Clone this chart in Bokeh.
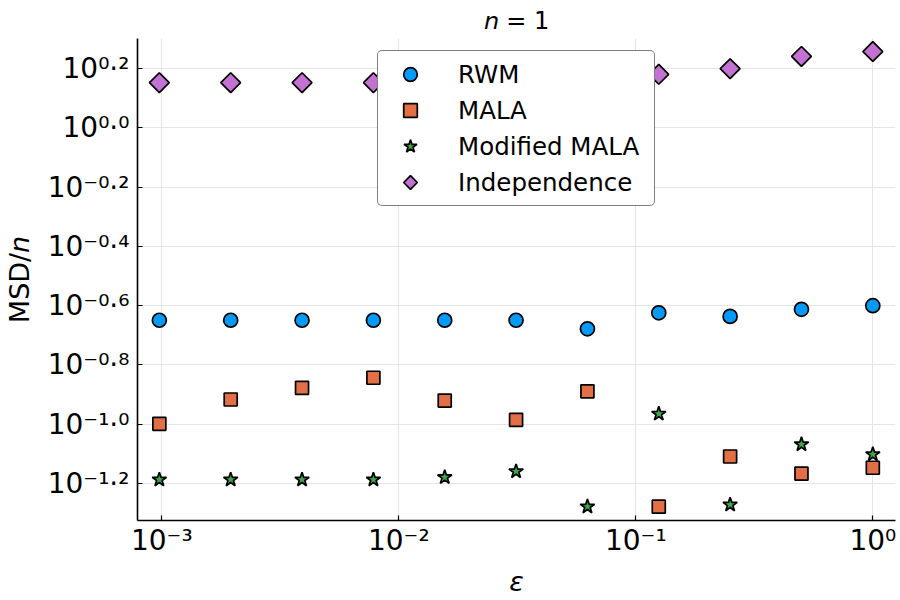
import math
from bokeh.plotting import figure
from bokeh.models import Range1d, FixedTicker, CustomJSTickFormatter, Legend, ColumnDataSource
from bokeh.embed import file_html
from bokeh.resources import INLINE

# ---- data ----
eps = [0.0009765625, 0.001953125, 0.00390625, 0.0078125, 0.015625, 0.03125,
       0.0625, 0.125, 0.25, 0.5, 1.0]
rwm = [0.2244, 0.2244, 0.2244, 0.2244, 0.2244, 0.2244, 0.2099, 0.2377, 0.2312, 0.2443, 0.2512]
mala = [0.1003, 0.1212, 0.1327, 0.1435, 0.1202, 0.1035, 0.1291, 0.0527, 0.0778, 0.0681, 0.0713]
mod_mala = [0.0650, 0.0650, 0.0650, 0.0650, 0.0662, 0.0693, 0.0527, 0.1084, 0.0535, 0.0855, 0.0791]
indep = [1.4223, 1.4223, 1.4223, 1.4223, 1.4223, 1.4289, 1.4454, 1.517, 1.585, 1.744, 1.811]

x_tick_vals = [0.001, 0.01, 0.1, 1.0]
x_tick_labels = ["10\u207b\u00b3", "10\u207b\u00b2", "10\u207b\u00b9", "10\u2070"]
y_tick_exps = [0.2, 0.0, -0.2, -0.4, -0.6, -0.8, -1.0, -1.2]
y_tick_labels = ["10\u2070\u00b7\u00b2", "10\u2070\u00b7\u2070", "10\u207b\u2070\u00b7\u00b2",
                 "10\u207b\u2070\u00b7\u2074", "10\u207b\u2070\u00b7\u2076", "10\u207b\u2070\u00b7\u2078",
                 "10\u207b\u00b9\u00b7\u2070", "10\u207b\u00b9\u00b7\u00b2"]
y_tick_vals = [10 ** e for e in y_tick_exps]

title_text = "\U0001D62F = 1"
y_label = "MSD/\U0001D62F"
x_label = "\u03b5"

FONT = "DejaVu Sans"

p = figure(width=900, height=600, x_axis_type="log", y_axis_type="log",
           x_range=Range1d(10 ** -3.1025, 10 ** 0.0957),
           y_range=Range1d(10 ** -1.325, 10 ** 0.302),
           output_backend="svg", toolbar_location=None,
           min_border_left=137, min_border_right=5, min_border_top=38, min_border_bottom=80)
p.outline_line_color = None
p.background_fill_color = "white"

p.title.text = title_text
p.title.align = "center"
p.title.text_font = FONT
p.title.text_font_size = "24px"
p.title.text_font_style = "normal"
p.title.text_color = "black"
p.title.standoff = 8

fmt_code = """
let best = 0;
for (let i = 0; i < vals.length; i++) {
  if (Math.abs(Math.log10(tick) - Math.log10(vals[i])) <
      Math.abs(Math.log10(tick) - Math.log10(vals[best]))) best = i;
}
return labels[best];
"""
p.xaxis.ticker = FixedTicker(ticks=x_tick_vals)
p.xaxis.formatter = CustomJSTickFormatter(args=dict(vals=x_tick_vals, labels=x_tick_labels), code=fmt_code)
p.yaxis.ticker = FixedTicker(ticks=y_tick_vals)
p.yaxis.formatter = CustomJSTickFormatter(args=dict(vals=y_tick_vals, labels=y_tick_labels), code=fmt_code)

for ax in (p.xaxis, p.yaxis):
    ax.major_label_text_font = FONT
    ax.major_label_text_font_size = "28px"
    ax.major_label_text_color = "black"
    ax.axis_line_color = "black"
    ax.axis_line_width = 1.6
    ax.major_tick_in = 5
    ax.major_tick_out = 0
    ax.major_tick_line_color = "black"
    ax.major_tick_line_width = 1.2
    ax.minor_tick_line_color = None
    ax.axis_label_text_font = FONT
    ax.axis_label_text_color = "black"
    ax.axis_label_text_font_size = "27px"
p.yaxis.major_label_standoff = 8
p.xaxis.major_label_standoff = 3

p.xaxis.axis_label = x_label
p.xaxis.axis_label_text_font_style = "italic"
p.xaxis.axis_label_standoff = 6
p.yaxis.axis_label = y_label
p.yaxis.axis_label_text_font_style = "normal"
p.yaxis.axis_label_standoff = 10

p.xgrid.grid_line_color = "#e5e5e5"
p.ygrid.grid_line_color = "#e5e5e5"

common = dict(line_color="black", line_width=1.7)
p.scatter(eps, rwm, marker="circle", size=14, fill_color="#009AFA", legend_label="RWM", **common)
p.scatter(eps, mala, marker="square", size=13, fill_color="#E36F47", legend_label="MALA", **common)
p.scatter(eps, mod_mala, marker="star", size=15, fill_color="#3EA44E", legend_label="Modified MALA", **common)
# data diamonds: rotated squares
src_ind = ColumnDataSource(dict(x=eps, y=indep))
p.scatter("x", "y", source=src_ind, marker="square", angle=math.pi / 4, size=14,
          fill_color="#C371D2", **common)
# hidden twin renderer that supplies the legend's diamond glyph
try:
    p.ngon("x", "y", source=src_ind, radius=9, radius_units="screen", n=4,
           fill_color="#C371D2", legend_label="Independence", visible=False, **common)
except Exception:
    p.scatter("x", "y", source=src_ind, marker="diamond", size=22, fill_color="#C371D2",
              legend_label="Independence", visible=False, **common)

lg = p.legend[0]
lg.location = "top_center"
lg.margin = 12
lg.padding = 6
lg.spacing = 2
lg.glyph_width = 52
lg.glyph_height = 34
lg.label_height = 34
lg.label_standoff = 22
lg.label_width = 190
lg.label_text_font = FONT
lg.label_text_font_size = "24.5px"
lg.label_text_color = "black"
lg.border_line_color = "black"
lg.border_line_width = 1.5
lg.background_fill_color = "white"
lg.background_fill_alpha = 1.0
lg.inactive_fill_alpha = 0.0
if "border_radius" in Legend.properties():
    lg.border_radius = 5

open("out.html", "w").write(file_html(p, INLINE))
